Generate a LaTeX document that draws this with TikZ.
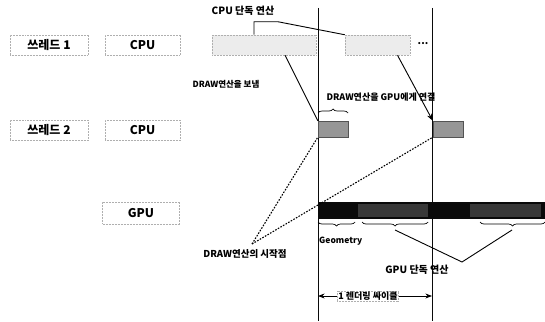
\documentclass[tikz,border=0pt]{standalone}
\usepackage{fontspec}
\setmainfont{Noto Sans CJK KR}
\usepackage{tikz}
\usetikzlibrary{arrows.meta, calc, decorations.pathreplacing}
\definecolor{scangray}{RGB}{175,175,175}
\definecolor{stipple}{RGB}{236,236,236}
\definecolor{drawgray}{RGB}{150,150,150}
\definecolor{inkblack}{RGB}{10,10,10}

\begin{document}
\begin{tikzpicture}[x=1pt, y=-1pt, >=Stealth,
  faint/.style={draw=scangray, densely dotted, line width=0.5pt, inner sep=1pt},
  rowname/.style={faint, minimum width=78pt, minimum height=20pt, font=\fontsize{12}{13}\selectfont\bfseries},
  taskbox/.style={faint, fill=stipple, minimum height=20pt},
  drawbox/.style={draw=inkblack!70, fill=drawgray, minimum width=30pt, minimum height=16pt, inner sep=0pt},
  note/.style={font=\fontsize{8.5}{10}\selectfont\bfseries, inner sep=1pt},
  brace/.style={decorate, decoration={brace, amplitude=4pt}, line width=0.7pt},
  startline/.style={dash pattern=on 1.6pt off 1.4pt, line width=1.1pt}]
\useasboundingbox (0,0) rectangle (545,321);
\draw[line width=0.9pt, inkblack] (318,8) coordinate (v1top) -- (318,321);
\draw[line width=0.9pt, inkblack] (432,8) coordinate (v2top) -- (432,321);
\node[rowname] (t1) at (49,45) {쓰레드 1};
\node[rowname, minimum width=75pt] (c1) at (142.5,45) {CPU};
\node[taskbox, minimum width=104pt] (c1b) at (264,45) {};
\node[taskbox, minimum width=65pt] (c1c) at (377.5,45) {};
\node[font=\bfseries, inner sep=0pt] (dots) at (423,44) {...};
\node[rowname] (t2) at (49,130) {쓰레드 2};
\node[rowname, minimum width=75pt] (c2) at (142.5,130) {CPU};
\node[rowname, minimum width=77pt, minimum height=22pt] (g) at (141,213) {GPU};
\node[drawbox] (boxA) at (333,129) {};
\node[drawbox] (boxB) at (448,129) {};
\node[fill=inkblack, minimum width=227pt, minimum height=17pt, inner sep=0pt] (bar) at (431.5,210.5) {};
\fill[black!78] (358,204) rectangle (428,217);
\fill[black!78] (470,204) rectangle (541,217);
\node[note, font=\fontsize{10}{11}\selectfont\bfseries] (solo) at (243,11) {CPU 단독 연산};
\draw[line width=0.9pt] ([xshift=-10pt]c1b.north) -- ++(0,-13) -- ++(24,0) -- (c1c.north west);
\node[note] (send) at (226,84) {DRAW연산을 보냄};
\draw[line width=0.9pt] ($(c1b.south)+(21,0)$) -- (boxA.north west);
\draw[->, line width=0.9pt] ($(c1c.south)+(20,0)$) -- (boxB.north west);
\node[note, font=\fontsize{9}{10}\selectfont\bfseries] (hand) at (381,97) {DRAW연산을 GPU에게 연결};
\draw[brace] (318,113) -- (348,113);
\node[note, font=\fontsize{9.5}{10}\selectfont\bfseries] (startlbl) at (245,254) {DRAW연산의 시작점};
\coordinate (apex) at (252,244);
\draw[startline] (apex) -- (boxA.south west);
\draw[startline] (apex) -- (boxB.south west);
\draw[brace] (355,222) -- (318,222);
\draw[brace] (428,222) -- (362,222);
\draw[brace] (545,222) -- (480,222);
\coordinate (b2tip) at (395,230);
\coordinate (b3tip) at (512,230);
\node[note, anchor=west] (geo) at (318,241) {Geometry};
\node[note, font=\fontsize{10}{11}\selectfont\bfseries] (gsolo) at (417,270) {GPU 단독 연산};
\coordinate (meet) at (462,262);
\draw[line width=0.9pt] (b2tip) -- (meet) -- (b3tip);
\node[faint, font=\fontsize{9}{10}\selectfont\bfseries] (cyc) at (368,296) {1 렌더링 싸이클};
\draw[->, line width=0.8pt] (cyc.west) -- (cyc.west -| v1top);
\draw[->, line width=0.8pt] (cyc.east) -- (cyc.east -| v2top);
\end{tikzpicture}
\end{document}
